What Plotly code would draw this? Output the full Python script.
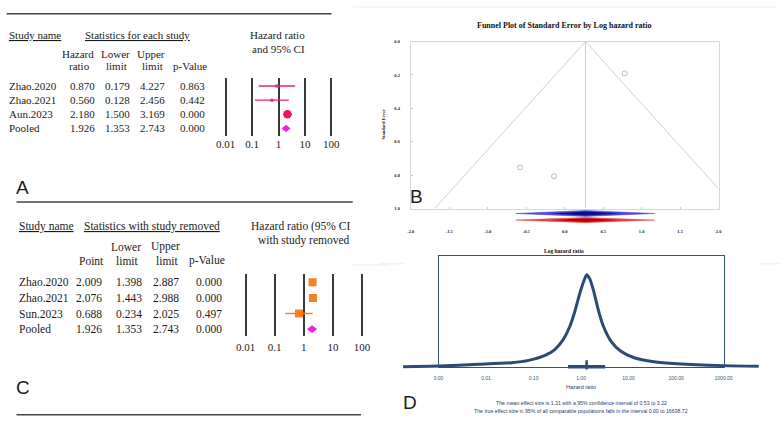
import math
import plotly.graph_objects as go

# ---------------- data ----------------
# Panel A: statistics for each study
studies_a = ["Zhao.2020", "Zhao.2021", "Aun.2023", "Pooled"]
hr_a = [0.870, 0.560, 2.180, 1.926]
lower_a = [0.179, 0.128, 1.500, 1.353]
upper_a = [4.227, 2.456, 3.169, 2.743]
p_a = [0.863, 0.442, 0.000, 0.000]

# Panel C: leave-one-out (statistics with study removed)
studies_c = ["Zhao.2020", "Zhao.2021", "Sun.2023", "Pooled"]
point_c = [2.009, 2.076, 0.688, 1.926]
lower_c = [1.398, 1.443, 0.234, 1.353]
upper_c = [2.887, 2.988, 2.025, 2.743]
p_c = [0.000, 0.000, 0.497, 0.000]

# Forest axis ticks
forest_ticks = [0.01, 0.1, 1, 10, 100]
forest_tick_labels = ["0.01", "0.1", "1", "10", "100"]

# Panel B funnel axes ticks
funnel_x_ticks = [-2.0, -1.5, -1.0, -0.5, 0.0, 0.5, 1.0, 1.5, 2.0]
funnel_y_ticks = [0.0, 0.2, 0.4, 0.6, 0.8, 1.0]

# Panel D: random-effects summary and prediction distribution
mean_effect = 1.31
ci_low, ci_high = 0.53, 3.22
pi_low, pi_high = 0.00, 16638.72
dist_hr = [0.00018, 0.001, 0.0071, 0.035, 0.079, 0.175, 0.28, 0.42, 0.58, 0.74,
           0.94, 1.16, 1.31, 1.52, 1.86, 2.26, 2.87, 4.27, 6.9, 13.1, 34, 105, 980, 5500]
dist_height = [0.0, 0.007, 0.025, 0.043, 0.068, 0.122, 0.186, 0.294, 0.437, 0.60,
               0.796, 0.939, 1.0, 0.957, 0.814, 0.634, 0.455, 0.276, 0.168, 0.097,
               0.054, 0.032, 0.011, 0.004]
dist_ticks = [0.001, 0.01, 0.1, 1, 10, 100, 1000]
dist_tick_labels = ["0.00", "0.01", "0.10", "1.00", "10.00", "100.00", "1000.00"]

# ---------------- helpers ----------------
W, H = 784, 422
def fx(px):
    return px / W
def fy(py):
    return 1 - py / H
def xdom(a, b):
    return [fx(a), fx(b)]
def ydom(top, bottom):
    return [fy(bottom), fy(top)]

SERIF = "Liberation Serif"
SANS = "Liberation Sans"
TXT = "#1b1b1b"
PINK = "#e8207e"
PINK_BIG = "#f0145f"
MAGENTA = "#ee22e6"
ORANGE = "#f5821f"
NAVY = "#2b4a75"

fig = go.Figure()
annotations = []
shapes = []

def ann(text, x, y, size, family=SERIF, xanchor="center", color=TXT, yref="paper",
        weight="normal", textangle=0):
    annotations.append(dict(
        text=text, x=fx(x), y=(fy(y) if yref == "paper" else y), xref="paper", yref=yref,
        xanchor=xanchor, yanchor="middle", showarrow=False, textangle=textangle,
        font=dict(family=family, size=size, color=color, weight=weight)))

def hline(x0, x1, y, color="#444444", width=1.5):
    shapes.append(dict(type="line", xref="paper", yref="paper", x0=fx(x0), x1=fx(x1),
                       y0=fy(y), y1=fy(y), line=dict(color=color, width=width)))

# ---------------- Panel A ----------------
rows_a = list(range(len(studies_a)))
for i in rows_a[:-1]:
    fig.add_trace(go.Scatter(x=[lower_a[i], upper_a[i]], y=[i, i], mode="lines",
                             line=dict(color=PINK, width=1.3), xaxis="x", yaxis="y",
                             hoverinfo="skip"))
fig.add_trace(go.Scatter(x=hr_a[:2], y=rows_a[:2], mode="markers",
                         marker=dict(symbol="square", size=3, color=PINK),
                         xaxis="x", yaxis="y", hoverinfo="skip"))
fig.add_trace(go.Scatter(x=[hr_a[2]], y=[rows_a[2]], mode="markers",
                         marker=dict(symbol="circle", size=8.5, color=PINK_BIG),
                         xaxis="x", yaxis="y", hoverinfo="skip"))
r = rows_a[3]; dh = 0.21
fig.add_trace(go.Scatter(x=[lower_a[3], hr_a[3], upper_a[3], hr_a[3], lower_a[3]],
                         y=[r, r - dh, r, r + dh, r], mode="lines", fill="toself",
                         fillcolor=MAGENTA, line=dict(color=MAGENTA, width=1),
                         xaxis="x", yaxis="y", hoverinfo="skip"))

hline(2.7, 331, 12)
ann("<u>Study name</u>", 3, 33, 11, xanchor="left")
ann("<u>Statistics for each study</u>", 80, 33, 11, xanchor="left")
ann("Hazard ratio", 276, 33, 11)
ann("and 95% CI", 277.5, 48, 11)
for t, x, y in [("Hazard", 75, 53), ("ratio", 76, 65), ("Lower", 113, 53), ("limit", 114, 65),
                ("Upper", 149, 53), ("limit", 150, 65), ("p-Value", 188, 65)]:
    ann(t, x, y, 11)
for i in rows_a:
    ann(studies_a[i], 3, i, 11, xanchor="left", yref="y")
    ann(f"{hr_a[i]:.3f}", 93.5, i, 11, xanchor="right", yref="y")
    ann(f"{lower_a[i]:.3f}", 129.5, i, 11, xanchor="right", yref="y")
    ann(f"{upper_a[i]:.3f}", 165, i, 11, xanchor="right", yref="y")
    ann(f"{p_a[i]:.3f}", 205.5, i, 11, xanchor="right", yref="y")
ann("A", 18.5, 187.5, 19, family=SANS)

# ---------------- Panel C ----------------
rows_c = list(range(len(studies_c)))
fig.add_trace(go.Scatter(x=[lower_c[2], upper_c[2]], y=[2, 2], mode="lines",
                         line=dict(color=ORANGE, width=1.5), xaxis="x2", yaxis="y2",
                         hoverinfo="skip"))
fig.add_trace(go.Scatter(x=point_c[:3], y=rows_c[:3], mode="markers",
                         marker=dict(symbol="square", size=8, color=ORANGE),
                         xaxis="x2", yaxis="y2", hoverinfo="skip"))
r = rows_c[3]
fig.add_trace(go.Scatter(x=[lower_c[3], point_c[3], upper_c[3], point_c[3], lower_c[3]],
                         y=[r, r - dh, r, r + dh, r], mode="lines", fill="toself",
                         fillcolor=MAGENTA, line=dict(color=MAGENTA, width=1),
                         xaxis="x2", yaxis="y2", hoverinfo="skip"))

FC = 11.5
hline(12.7, 352.3, 202.3)
hline(12.7, 360.7, 417.7)
ann("<u>Study name</u>", 12.7, 226.7, FC, xanchor="left")
ann("<u>Statistics with study removed</u>", 79.3, 226.7, FC, xanchor="left")
ann("Hazard ratio (95% CI", 247.7, 226.7, FC, xanchor="left")
ann("with study removed", 255, 241.7, FC, xanchor="left")
for t, x, y in [("Lower", 123.7, 247.7), ("Upper", 163, 247.7), ("Point", 88, 261.7),
                ("limit", 125, 261.7), ("limit", 164.7, 261.7), ("p-Value", 204.7, 261.7)]:
    ann(t, x, y, FC)
for i in rows_c:
    ann(studies_c[i], 12.7, i, FC, xanchor="left", yref="y2")
    ann(f"{point_c[i]:.3f}", 101, i, FC, xanchor="right", yref="y2")
    ann(f"{lower_c[i]:.3f}", 141, i, FC, xanchor="right", yref="y2")
    ann(f"{upper_c[i]:.3f}", 179.3, i, FC, xanchor="right", yref="y2")
    ann(f"{p_c[i]:.3f}", 222.7, i, FC, xanchor="right", yref="y2")
ann("C", 19.3, 390.5, 19, family=SANS)

# ---------------- Panel B (funnel) ----------------
mean_log = math.log(mean_effect)
se_max = funnel_y_ticks[-1]
fig.add_trace(go.Scatter(x=[mean_log - 1.96 * se_max, mean_log, mean_log + 1.96 * se_max],
                         y=[se_max, 0, se_max], mode="lines",
                         line=dict(color="#cfcfcf", width=1), xaxis="x3", yaxis="y3",
                         hoverinfo="skip"))
fig.add_trace(go.Scatter(x=[mean_log, mean_log], y=[0, se_max], mode="lines",
                         line=dict(color="#cfcfcf", width=1), xaxis="x3", yaxis="y3",
                         hoverinfo="skip"))
study_log = [math.log(h) for h in hr_a[:3]]
study_se = [(math.log(u) - math.log(l)) / 3.92 for l, u in zip(lower_a[:3], upper_a[:3])]
fig.add_trace(go.Scatter(x=study_log, y=study_se, mode="markers",
                         marker=dict(symbol="circle-open", size=5, color="#a9a9a9",
                                     line=dict(width=0.8)),
                         xaxis="x3", yaxis="y3", hoverinfo="skip"))

# combined-effect diamonds (observed blue, adjusted red)
lo_log, hi_log = math.log(ci_low), math.log(ci_high)
for (c, hh, outer, inner) in [(4.0, 3.0, "#4a4ad6", "#0c0c8c"), (10.7, 2.6, "#e24545", "#c00000")]:
    fig.add_trace(go.Scatter(x=[lo_log, mean_log, hi_log, mean_log, lo_log],
                             y=[c, c - hh, c, c + hh, c], mode="lines", fill="toself",
                             fillcolor=outer, line=dict(color=outer, width=0.5),
                             xaxis="x4", yaxis="y4", hoverinfo="skip"))
    ilo = mean_log - (mean_log - lo_log) * 0.5
    ihi = mean_log + (hi_log - mean_log) * 0.5
    fig.add_trace(go.Scatter(x=[ilo, mean_log, ihi, mean_log, ilo],
                             y=[c, c - hh * 0.7, c, c + hh * 0.7, c], mode="lines", fill="toself",
                             fillcolor=inner, line=dict(color=inner, width=0),
                             xaxis="x4", yaxis="y4", hoverinfo="skip"))

ann("Funnel Plot of Standard Error by Log hazard ratio", 566, 23.3, 8, weight="bold", color="#111111")
ann("Standard Error", 383, 124, 4.5, weight="bold", textangle=-90, color="#222222")
ann("Log hazard ratio", 566, 251.5, 5.5, weight="bold", color="#111111")
ann("B", 416.5, 197, 19, family=SANS)

# ---------------- Panel D ----------------
fig.add_trace(go.Scatter(x=[], y=[], mode="lines", xaxis="x6", yaxis="y6", hoverinfo="skip"))
fig.add_trace(go.Scatter(x=dist_hr, y=dist_height, mode="lines",
                         line=dict(color=NAVY, width=3, shape="spline", smoothing=0.6),
                         xaxis="x5", yaxis="y5", hoverinfo="skip"))
fig.add_trace(go.Scatter(x=[ci_low, ci_high], y=[0, 0], mode="lines",
                         line=dict(color=NAVY, width=3.5), xaxis="x5", yaxis="y5",
                         hoverinfo="skip"))
fig.add_trace(go.Scatter(x=[mean_effect], y=[0], mode="markers",
                         marker=dict(symbol="line-ns", size=9, line=dict(color=NAVY, width=2.5)),
                         xaxis="x5", yaxis="y5", hoverinfo="skip"))
DTXT = "#27406b"
ann("Hazard ratio", 583, 390, 5.5, family=SANS, color=DTXT)
ann(f"The mean effect size is {mean_effect:.2f} with a 95% confidence interval of {ci_low:.2f} to {ci_high:.2f}",
    583, 406, 5.2, family=SANS, color=DTXT)
ann(f"The true effect size in 95% of all comparable populations falls in the interval {pi_low:.2f} to {pi_high:.2f}",
    583, 414, 5.2, family=SANS, color=DTXT)
ann("D", 410.5, 405.5, 19, family=SANS)

# faint composition seams
hline(353, 780, 5, color="#ededed", width=1)
hline(352, 390, 266, color="#ededed", width=1)
hline(380, 405, 265, color="#ededed", width=1)
hline(762, 784, 265, color="#ededed", width=1)

# ---------------- layout ----------------
forest_common = dict(type="log", tickvals=forest_ticks, ticktext=forest_tick_labels,
                     showgrid=True, gridcolor="#3a3a3a", gridwidth=2, showline=False,
                     zeroline=False, ticks="", fixedrange=True,
                     tickfont=dict(family=SERIF, size=11, color=TXT))
hidden_y = dict(showgrid=False, zeroline=False, showticklabels=False, showline=False,
                ticks="", fixedrange=True)

fig.update_layout(
    width=W, height=H, margin=dict(l=0, r=0, t=0, b=0),
    paper_bgcolor="white", plot_bgcolor="rgba(0,0,0,0)", showlegend=False,
    xaxis=dict(forest_common, domain=xdom(216, 338.7), range=[-2.3, 2.3], anchor="y"),
    yaxis=dict(hidden_y, domain=ydom(77, 136), range=[3.558, -0.558], anchor="x"),
    xaxis2=dict(forest_common, domain=xdom(236, 369.7), range=[-2.272, 2.272], anchor="y2",
                ticklabelstandoff=3),
    yaxis2=dict(hidden_y, domain=ydom(275, 338.3), range=[3.46, -0.55], anchor="x2"),
    xaxis3=dict(domain=xdom(411, 722), range=[-2, 2], anchor="y3", tickvals=funnel_x_ticks,
                showticklabels=False, ticks="inside", ticklen=2, tickcolor="#c8c8c8",
                showline=True, mirror=True, linecolor="#d6d6d6", linewidth=1,
                showgrid=False, zeroline=False, fixedrange=True),
    yaxis3=dict(domain=ydom(40, 209), range=[1.0, 0.0], anchor="x3", tickvals=funnel_y_ticks,
                ticktext=[f"{v:.1f}" for v in funnel_y_ticks], ticks="inside", ticklen=2,
                tickcolor="#c8c8c8", ticklabelstandoff=9,
                tickfont=dict(family=SERIF, size=4.5, color="#222222", weight="bold"),
                showline=True, mirror=True, linecolor="#d6d6d6", linewidth=1,
                showgrid=False, zeroline=False, fixedrange=True),
    xaxis4=dict(domain=xdom(411, 722), range=[-2, 2], anchor="y4", tickvals=funnel_x_ticks,
                ticktext=[f"{v:.1f}" for v in funnel_x_ticks], ticks="", ticklabelstandoff=2,
                tickfont=dict(family=SERIF, size=4.5, color="#222222", weight="bold"),
                showline=False, showgrid=False, zeroline=False, fixedrange=True),
    yaxis4=dict(hidden_y, domain=ydom(210, 226), range=[16, 0], anchor="x4"),
    xaxis5=dict(type="log", domain=xdom(403, 763), range=[-3.75, 3.75], anchor="y5",
                tickvals=dist_ticks, ticktext=dist_tick_labels, ticks="", ticklabelstandoff=5,
                tickfont=dict(family=SANS, size=5, color="#3b4f70"),
                showline=False, showgrid=False, zeroline=False, fixedrange=True),
    yaxis5=dict(hidden_y, domain=ydom(257, 371.8), range=[-0.03, 1.204], anchor="x5"),
    xaxis6=dict(domain=xdom(439, 727), range=[0, 1], anchor="y6", showline=True, mirror=True,
                linecolor="#33507a", linewidth=1.2, showticklabels=False, ticks="",
                showgrid=False, zeroline=False, fixedrange=True),
    yaxis6=dict(domain=ydom(257, 369), range=[0, 1], anchor="x6", showline=True, mirror=True,
                linecolor="#33507a", linewidth=1.2, showticklabels=False, ticks="",
                showgrid=False, zeroline=False, fixedrange=True),
    annotations=annotations,
    shapes=shapes,
)

fig.write_html("out.html", config={"displayModeBar": False},
               post_script="document.body.style.margin='0';document.body.style.padding='0';")
